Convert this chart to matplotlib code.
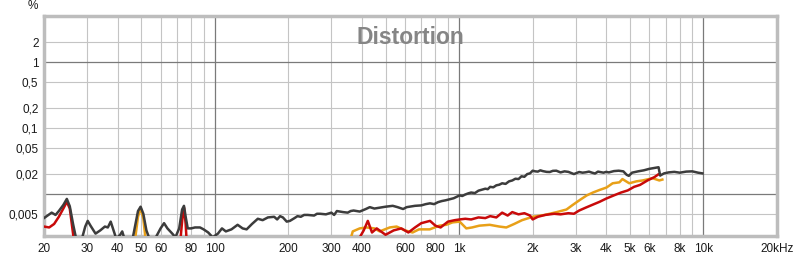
import matplotlib
matplotlib.use('Agg')
import matplotlib.pyplot as plt

# --- data (frequency in Hz, distortion in %) ---
gray_f = [20, 21, 21.5, 22.3, 23, 24, 24.8, 25.5, 26.3, 27, 28.5, 29.5, 30.2, 31, 32.5,
          34, 35.5, 36.5, 37.5, 38.5, 39.5, 41, 41.8, 42.5, 44, 46, 47, 48.5, 49.7, 51,
          52.5, 54, 57, 60, 62, 64, 67, 69, 71.5, 73.5, 74.8, 76, 77.5, 80, 83, 87, 90,
          94, 98, 103, 107, 111, 117, 124, 130, 135, 142, 150, 157, 165, 175, 180, 185,
          190, 197, 203, 212, 218, 225, 232, 240, 255, 262, 270, 285, 300, 308, 316, 335,
          350, 360, 370, 392, 415, 431, 450, 475, 500, 535, 560, 590, 610, 628, 660, 700,
          730, 760, 790, 820, 850, 880, 915, 950, 1005, 1030, 1060, 1090, 1120, 1160,
          1200, 1240, 1280, 1310, 1340, 1380, 1420, 1460, 1500, 1550, 1600, 1650, 1700,
          1750, 1800, 1850, 1900, 1950, 2000, 2050, 2100, 2150, 2200, 2280, 2350, 2420,
          2500, 2600, 2700, 2800, 2950, 3100, 3200, 3300, 3400, 3500, 3600, 3700, 3800,
          3900, 4000, 4100, 4300, 4500, 4700, 4850, 4950, 5100, 5400, 5700, 6000, 6300,
          6550, 6650, 6900, 7200, 7600, 8000, 8500, 9000, 9500, 9900]
gray_v = [0.0043, 0.0049, 0.0052, 0.0048, 0.0055, 0.0068, 0.0084, 0.0065, 0.0035, 0.0022,
          0.0020, 0.0032, 0.0039, 0.0033, 0.0025, 0.0028, 0.0032, 0.0031, 0.0038, 0.0028,
          0.0021, 0.0024, 0.0027, 0.0022, 0.0018, 0.0020, 0.0030, 0.0055, 0.0064, 0.0050,
          0.0028, 0.0021, 0.0021, 0.0030, 0.0036, 0.0030, 0.0025, 0.0022, 0.0030, 0.0058,
          0.0066, 0.0045, 0.0030, 0.0030, 0.0031, 0.0031, 0.0029, 0.0026, 0.0022, 0.0025,
          0.0030, 0.0027, 0.0029, 0.0034, 0.0030, 0.0029, 0.0035, 0.0042, 0.0040, 0.0044,
          0.0045, 0.0041, 0.0046, 0.0044, 0.0038, 0.0039, 0.0043, 0.0046, 0.0045, 0.0048,
          0.0048, 0.0047, 0.0050, 0.0050, 0.0049, 0.0052, 0.0048, 0.0055, 0.0053, 0.0052,
          0.0055, 0.0056, 0.0054, 0.0059, 0.0063, 0.0060, 0.0062, 0.0064, 0.0066, 0.0063,
          0.0059, 0.0063, 0.0064, 0.0066, 0.0067, 0.0070, 0.0072, 0.0070, 0.0075, 0.0078,
          0.0080, 0.0083, 0.0086, 0.0095, 0.0093, 0.0098, 0.0102, 0.0105, 0.0103, 0.0112,
          0.0116, 0.0120, 0.0118, 0.0128, 0.0126, 0.0135, 0.0138, 0.0145, 0.0142, 0.0155,
          0.0160, 0.0170, 0.0168, 0.0185, 0.0182, 0.0200, 0.0205, 0.0225, 0.0220, 0.0218,
          0.0228, 0.0222, 0.0216, 0.0215, 0.0224, 0.0225, 0.0212, 0.0220, 0.0216, 0.0200,
          0.0215, 0.0210, 0.0213, 0.0218, 0.0210, 0.0204, 0.0218, 0.0214, 0.0210, 0.0216,
          0.0212, 0.0222, 0.0225, 0.0220, 0.0195, 0.0188, 0.0210, 0.0220, 0.0228, 0.0240,
          0.0248, 0.0254, 0.0190, 0.0205, 0.0212, 0.0216, 0.0210, 0.0218, 0.0220, 0.0210,
          0.0205]

red_f = [20, 21, 22, 23, 24, 24.8, 25.5, 26.3, 27, 30, 50, 70, 72.5, 73.8, 74.8, 76, 77,
         80, 300, 380, 407, 423, 440, 460, 500, 540, 580, 620, 660, 700, 760, 800, 840,
         900, 960, 1005, 1060, 1120, 1200, 1280, 1340, 1420, 1500, 1580, 1650, 1750,
         1850, 1950, 2000, 2100, 2250, 2450, 2600, 2800, 2950, 3100, 3300, 3500, 3760,
         4000, 4300, 4600, 4900, 5200, 5500, 5900, 6300, 6550, 6650]
red_v = [0.0032, 0.0031, 0.0035, 0.0045, 0.0060, 0.0076, 0.0060, 0.0025, 0.0012, 0.0010,
         0.0010, 0.0010, 0.0022, 0.0045, 0.0062, 0.0035, 0.0015, 0.0010, 0.0010, 0.0018,
         0.0028, 0.0039, 0.0026, 0.0030, 0.0024, 0.0028, 0.0030, 0.0026, 0.0031, 0.0036,
         0.0039, 0.0033, 0.0031, 0.0038, 0.0040, 0.0041, 0.0042, 0.0041, 0.0044, 0.0043,
         0.0046, 0.0044, 0.0052, 0.0047, 0.0053, 0.0049, 0.0051, 0.0047, 0.0041, 0.0045,
         0.0048, 0.0050, 0.0049, 0.0051, 0.0050, 0.0056, 0.0062, 0.0068, 0.0076, 0.0085,
         0.0095, 0.0105, 0.0113, 0.0128, 0.0137, 0.0160, 0.0180, 0.0199, 0.0195]

orange_f = [20, 46, 47.3, 48.5, 49.7, 51, 52.3, 55, 340, 367, 392, 418, 450, 473, 520,
            555, 600, 645, 685, 758, 830, 885, 940, 1005, 1070, 1130, 1210, 1334, 1460,
            1560, 1680, 1810, 2000, 2240, 2510, 2750, 2916, 3120, 3330, 3530, 3760, 4010,
            4250, 4530, 4660, 4970, 5310, 5630, 6190, 6600, 6790]
orange_v = [0.0010, 0.0010, 0.0022, 0.0045, 0.0062, 0.0042, 0.0018, 0.0010, 0.0010,
            0.0027, 0.0030, 0.0031, 0.0030, 0.0027, 0.0031, 0.0032, 0.0028, 0.0026,
            0.0029, 0.0029, 0.0033, 0.0034, 0.0037, 0.0038, 0.0030, 0.0031, 0.0033,
            0.0034, 0.0032, 0.0031, 0.0035, 0.0040, 0.0045, 0.0048, 0.0053, 0.0058,
            0.0068, 0.0081, 0.0095, 0.0105, 0.0115, 0.0125, 0.0145, 0.0150, 0.0168,
            0.0145, 0.0155, 0.0160, 0.0173, 0.0160, 0.0165]

x_ticks = [20, 30, 40, 50, 60, 80, 100, 200, 300, 400, 600, 800, 1000, 2000, 3000,
           4000, 5000, 6000, 8000, 10000, 20000]
x_labels = ['20', '30', '40', '50', '60', '80', '100', '200', '300', '400', '600', '800',
            '1k', '2k', '3k', '4k', '5k', '6k', '8k', '10k', '20kHz']
y_ticks = [2, 1, 0.5, 0.2, 0.1, 0.05, 0.02, 0.005]
y_labels = ['2', '1', '0,5', '0,2', '0,1', '0,05', '0,02', '0,005']

plt.rcParams['font.family'] = ['Liberation Sans', 'DejaVu Sans']

fig = plt.figure(figsize=(8, 2.58), dpi=100)
ax = fig.add_axes([44 / 800, 1 - 236 / 258, 733 / 800, 220 / 258])
ax.set_xscale('log')
ax.set_yscale('log')
ax.set_xlim(20, 20000)
ax.set_ylim(0.0023, 5)

# grid lines
for dec in [10, 100, 1000, 10000]:
    for m in range(1, 10):
        f = dec * m
        if f <= 20 or f >= 20000:
            continue
        if m == 1:
            ax.axvline(f, color='#7a7a7a', lw=0.9, zorder=1)
        else:
            ax.axvline(f, color='#c4c4c4', lw=0.8, zorder=0)
for v in [2, 0.5, 0.2, 0.1, 0.05, 0.02, 0.005]:
    ax.axhline(v, color='#c4c4c4', lw=0.8, zorder=0)
for v in [1, 0.01]:
    ax.axhline(v, color='#7a7a7a', lw=0.9, zorder=1)

ax.plot(orange_f, orange_v, color='#e8a018', lw=1.8, zorder=3)
ax.plot(red_f, red_v, color='#c80a0a', lw=1.8, zorder=4)
ax.plot(gray_f, gray_v, color='#3c3c3c', lw=1.8, zorder=5)

ax.set_xticks(x_ticks)
ax.set_xticklabels(x_labels)
ax.set_yticks(y_ticks)
ax.set_yticklabels(y_labels)
ax.minorticks_off()
ax.tick_params(length=0, labelsize=8.5, colors='#1a1a1a', pad=5)
ax.tick_params(axis='y', pad=4)

for s in ax.spines.values():
    s.set_color('#bdbdbd')
    s.set_linewidth(2.5)

ax.text(0.5, 0.955, 'Distortion', transform=ax.transAxes, ha='center', va='top',
        fontsize=16.5, fontweight='bold', color='#858585', zorder=6)
fig.text(33 / 800, 1 - 6 / 258, '%', ha='center', va='center', fontsize=8.5,
         color='#1a1a1a')

fig.savefig('out.png', dpi=100)
